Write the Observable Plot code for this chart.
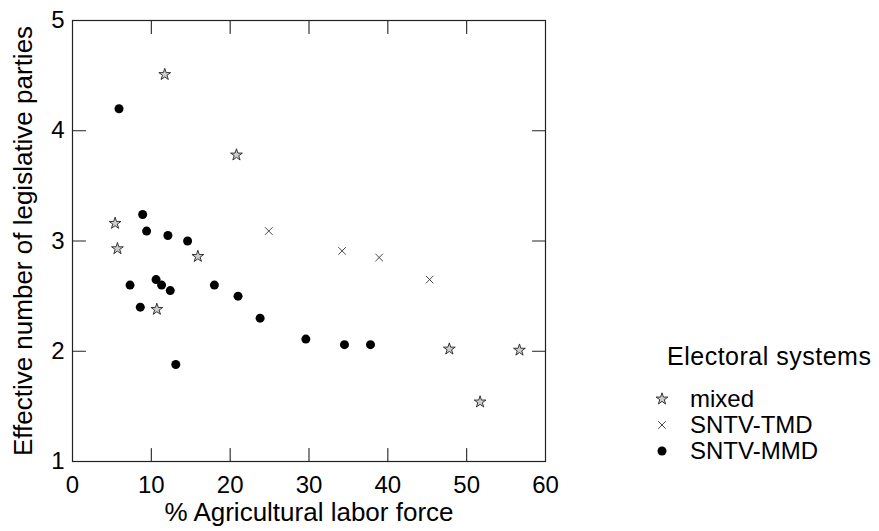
<!DOCTYPE html>
<html><head><meta charset="utf-8">
<script src="https://cdn.jsdelivr.net/npm/d3@7"></script>
<script src="https://cdn.jsdelivr.net/npm/@observablehq/plot@0.6"></script>
<style>
body{margin:0;background:#fff;font-family:"Liberation Sans",Arial,Helvetica,sans-serif}
#wrap{position:relative;width:879px;height:531px;overflow:hidden}
#legend{position:absolute;left:649px;top:342px;color:#000;font-size:24px}
#legend .title{margin-left:18px;margin-bottom:16px;white-space:nowrap;letter-spacing:0.5px;font-size:25px;line-height:28px}
#legend .row{display:flex;align-items:center;height:26px;line-height:26px}
#legend svg{width:26px;height:26px;margin-right:15px}
</style></head><body><div id="wrap"><div id="legend"></div></div>
<script>
const systems = ["mixed", "SNTV-TMD", "SNTV-MMD"];
const mixedX = [11.7, 20.8, 5.4, 5.7, 15.9, 10.7, 47.8, 56.7, 51.7];
const mixedY = [4.51, 3.78, 3.16, 2.93, 2.86, 2.38, 2.02, 2.01, 1.54];
const tmdX = [24.9, 34.2, 38.9, 45.3];
const tmdY = [3.09, 2.91, 2.85, 2.65];
const mmdX = [5.9, 8.9, 9.4, 12.1, 14.6, 7.3, 10.6, 11.3, 12.4, 18.0, 21.0, 8.6, 23.8, 29.6, 34.5, 37.8, 13.1];
const mmdY = [4.20, 3.24, 3.09, 3.05, 3.00, 2.60, 2.65, 2.60, 2.55, 2.60, 2.50, 2.40, 2.30, 2.11, 2.06, 2.06, 1.88];
const xTicks = [0, 10, 20, 30, 40, 50, 60];
const xInner = [10, 20, 30, 40, 50];
const yTicks = [1, 2, 3, 4, 5];
const yInner = [2, 3, 4];
const xTitle = "% Agricultural labor force";
const yTitle = "Effective number of legislative parties";
const legendTitle = "Electoral systems";

const rows = (xs, ys, s) => xs.map((x, i) => ({x, y: ys[i], system: s}));
const mixed = rows(mixedX, mixedY, systems[0]);
const tmd = rows(tmdX, tmdY, systems[1]);
const mmd = rows(mmdX, mmdY, systems[2]);

const font = "Liberation Sans, Arial, Helvetica, sans-serif";
const T = 13; // inward tick length
const tickShape = {draw(context, l) { context.moveTo(0, 0); context.lineTo(0, -l); }};
const tick = (data, o) => Plot.vector(data, {length: T, anchor: "start", shape: tickShape, stroke: "#222", strokeWidth: 1.1, ...o});
const chart = Plot.plot({
  width: 879, height: 531,
  marginLeft: 72, marginRight: 334, marginTop: 20, marginBottom: 70,
  style: {fontFamily: font, color: "#000", background: "transparent", overflow: "visible"},
  x: {domain: [0, 60]},
  y: {domain: [1, 5]},
  symbol: {domain: systems, range: ["star", "times", "circle"]},
  marks: [
    Plot.frame({stroke: "#222", strokeWidth: 1.2}),
    tick(xInner, {x: d => d, frameAnchor: "bottom", rotate: 0}),
    tick(xInner, {x: d => d, frameAnchor: "top", rotate: 180}),
    tick(yInner, {y: d => d, frameAnchor: "left", rotate: 90}),
    tick(yInner, {y: d => d, frameAnchor: "right", rotate: -90}),
    Plot.axisX({anchor: "bottom", ticks: xTicks, tickSize: 0, tickPadding: 14, fontSize: 24, label: null, tickFormat: d3.format("d")}),
    Plot.axisY({anchor: "left", ticks: yTicks, tickSize: 0, tickPadding: 8, fontSize: 24, label: null, tickFormat: d3.format("d")}),
    Plot.text([xTitle], {frameAnchor: "bottom", textAnchor: "middle", dy: 59, fontSize: 26, fill: "#000"}),
    Plot.text([yTitle], {frameAnchor: "left", textAnchor: "middle", rotate: -90, dx: -49, fontSize: 26, fill: "#000"}),
    Plot.dot(mmd, {x: "x", y: "y", symbol: "system", r: 4.5, fill: "#000", stroke: "none"}),
    Plot.dot(tmd, {x: "x", y: "y", symbol: "system", r: 3.5, fill: "none", stroke: "#333", strokeWidth: 0.9}),
    Plot.dot(mixed, {x: "x", y: "y", symbol: "system", r: 3.7, fill: "#cfcfcf", stroke: "#222", strokeWidth: 0.9})
  ]
});
const wrap = document.getElementById("wrap");
wrap.insertBefore(chart, wrap.firstChild);

// legend
const leg = d3.select("#legend");
leg.append("div").attr("class", "title").text(legendTitle);
const specs = [
  {sym: d3.symbolStar, size: Math.PI * 3.7 * 3.7, fill: "#cfcfcf", stroke: "#222", sw: 0.9},
  {sym: d3.symbolTimes, size: Math.PI * 3.5 * 3.5, fill: "none", stroke: "#333", sw: 0.9},
  {sym: d3.symbolCircle, size: Math.PI * 4.5 * 4.5, fill: "#000", stroke: "none", sw: 0}
];
systems.forEach((s, i) => {
  const r = leg.append("div").attr("class", "row");
  const svg = r.append("svg").attr("viewBox", "-13 -13 26 26");
  svg.append("path").attr("d", d3.symbol(specs[i].sym, specs[i].size)())
    .attr("fill", specs[i].fill).attr("stroke", specs[i].stroke).attr("stroke-width", specs[i].sw);
  r.append("span").text(s);
});
</script>
</body></html>
